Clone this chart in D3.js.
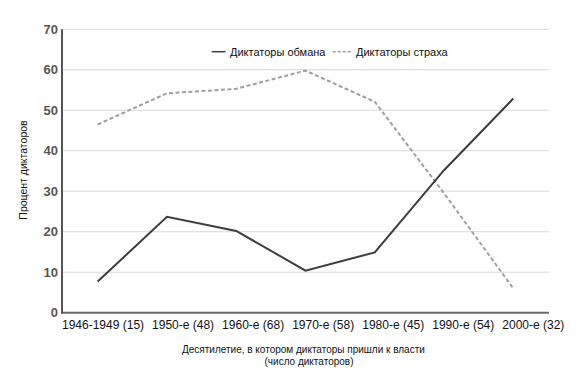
<!DOCTYPE html>
<html>
<head>
<meta charset="utf-8">
<script src="https://cdn.jsdelivr.net/npm/d3@7"></script>
<style>
  body { margin: 0; background: #fff; }
  text { font-family: "Liberation Sans", Arial, Helvetica, sans-serif; }
</style>
</head>
<body>
<script>
const decades = ["1946-1949 (15)", "1950-е (48)", "1960-е (68)", "1970-е (58)", "1980-е (45)", "1990-е (54)", "2000-е (32)"];
const deception = [7.7, 23.7, 20.2, 10.4, 14.9, 35.2, 52.9];
const fear = [46.5, 54.2, 55.3, 59.8, 52.1, 29.5, 6.0];
const yTicks = [0, 10, 20, 30, 40, 50, 60, 70];
const seriesNames = ["Диктаторы обмана", "Диктаторы страха"];

const width = 587, height = 374;
const svg = d3.select("body").append("svg").attr("width", width).attr("height", height);

const plotLeft = 62, plotRight = 549, plotTop = 29.3, plotBottom = 312.7;
const x = d3.scalePoint().domain(decades).range([97.7, 513.3]);
const y = d3.scaleLinear().domain([0, 70]).range([plotBottom, plotTop]);

// gridlines
svg.selectAll("line.grid")
  .data(yTicks.slice(1))
  .enter().append("line")
  .attr("class", "grid")
  .attr("x1", plotLeft).attr("x2", plotRight)
  .attr("y1", d => y(d)).attr("y2", d => y(d))
  .attr("stroke", "#d9d9d9")
  .attr("stroke-width", 1);

// y tick labels
svg.selectAll("text.ytick")
  .data(yTicks)
  .enter().append("text")
  .attr("class", "ytick")
  .attr("x", 58)
  .attr("y", d => y(d) + 4.5)
  .attr("text-anchor", "end")
  .attr("font-size", 13)
  .attr("font-weight", "bold")
  .attr("fill", "#5b554f")
  .text(d => d);

// x axis labels: the original sets them in a row with small gaps,
// so flow them left to right instead of centring under each point
const xAxis = d3.axisBottom(x).tickSize(0).tickPadding(0);
const gx = svg.append("g").attr("transform", `translate(0, ${plotBottom + 8})`).call(xAxis);
gx.select(".domain").remove();
gx.selectAll("text")
  .attr("font-size", 12)
  .attr("font-family", "'Liberation Sans', Arial, sans-serif")
  .attr("fill", "#111")
  .attr("text-anchor", "start")
  .attr("dy", "0.71em");
let cursor = plotLeft;
gx.selectAll(".tick").each(function() {
  const t = d3.select(this);
  const w = t.select("text").node().getComputedTextLength();
  t.attr("transform", `translate(${cursor}, 0)`);
  cursor += w + 8;
});

// axes lines
svg.append("line")
  .attr("x1", plotLeft).attr("x2", plotRight)
  .attr("y1", plotBottom).attr("y2", plotBottom)
  .attr("stroke", "#6b6b6b").attr("stroke-width", 2);
svg.append("line")
  .attr("x1", plotLeft).attr("x2", plotLeft)
  .attr("y1", plotTop).attr("y2", plotBottom + 1)
  .attr("stroke", "#555").attr("stroke-width", 2);

// series lines
const line = d3.line().x((d, i) => x(decades[i])).y(d => y(d));

svg.append("path")
  .datum(fear)
  .attr("d", line)
  .attr("fill", "none")
  .attr("stroke", "#9e9e9e")
  .attr("stroke-width", 2)
  .attr("stroke-dasharray", "4,2.5");

svg.append("path")
  .datum(deception)
  .attr("d", line)
  .attr("fill", "none")
  .attr("stroke", "#3d3d3d")
  .attr("stroke-width", 2);

// legend
const legend = svg.append("g").attr("transform", "translate(0, 51.7)");
legend.append("line")
  .attr("x1", 211.7).attr("x2", 225.5).attr("y1", 0).attr("y2", 0)
  .attr("stroke", "#3d3d3d").attr("stroke-width", 1.5);
legend.append("text")
  .attr("x", 230).attr("y", 4)
  .attr("font-size", 11).attr("fill", "#111")
  .text(seriesNames[0]);
legend.append("line")
  .attr("x1", 332.7).attr("x2", 352).attr("y1", 0).attr("y2", 0)
  .attr("stroke", "#9e9e9e").attr("stroke-width", 1.5)
  .attr("stroke-dasharray", "3,2");
legend.append("text")
  .attr("x", 356).attr("y", 4)
  .attr("font-size", 11).attr("fill", "#111")
  .text(seriesNames[1]);

// axis titles
svg.append("text")
  .attr("x", 182).attr("y", 353)
  .attr("font-size", 10).attr("fill", "#111")
  .text("Десятилетие, в котором диктаторы пришли к власти");
svg.append("text")
  .attr("x", 309).attr("y", 365)
  .attr("text-anchor", "middle")
  .attr("font-size", 10).attr("fill", "#111")
  .text("(число диктаторов)");

svg.append("text")
  .attr("transform", "translate(27, 170) rotate(-90)")
  .attr("text-anchor", "middle")
  .attr("font-size", 10.5).attr("fill", "#111")
  .text("Процент диктаторов");
</script>
</body>
</html>
